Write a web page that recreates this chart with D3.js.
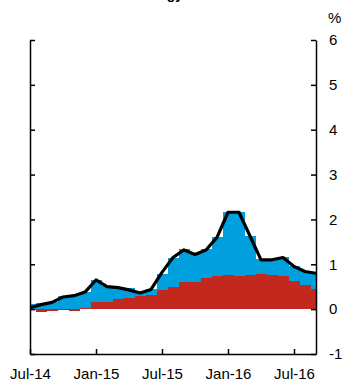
<!DOCTYPE html>
<html>
<head>
<meta charset="utf-8">
<script src="https://cdn.jsdelivr.net/npm/d3@7"></script>
<style>
  body { margin: 0; background: #fff; }
  svg { display: block; font-family: Arial, "Liberation Sans", sans-serif; }
</style>
</head>
<body>
<div id="chart"></div>
<script>
'use strict';

// --- Monthly data, Jul-14 .. Sep-16
var months = ['Jul-14','Aug-14','Sep-14','Oct-14','Nov-14','Dec-14',
  'Jan-15','Feb-15','Mar-15','Apr-15','May-15','Jun-15',
  'Jul-15','Aug-15','Sep-15','Oct-15','Nov-15','Dec-15',
  'Jan-16','Feb-16','Mar-16','Apr-16','May-16','Jun-16',
  'Jul-16','Aug-16','Sep-16'];
var redVals = [-0.02,-0.07,-0.05,-0.03,-0.05,0.02,
  0.15,0.17,0.22,0.24,0.30,0.32,
  0.42,0.50,0.60,0.61,0.69,0.73,
  0.77,0.73,0.77,0.78,0.77,0.73,
  0.63,0.54,0.46];
var blueVals = [0.11,0.13,0.17,0.30,0.32,0.37,
  0.50,0.35,0.28,0.23,0.09,0.13,
  0.36,0.64,0.74,0.64,0.65,0.87,
  1.39,1.43,0.87,0.33,0.34,0.44,
  0.34,0.31,0.36];
var lineVals = [0.03,0.10,0.15,0.27,0.30,0.38,
  0.65,0.50,0.48,0.43,0.36,0.44,
  0.82,1.15,1.32,1.22,1.32,1.60,
  2.16,2.16,1.63,1.10,1.10,1.15,
  0.95,0.84,0.80];
var tickLabels = ['Jul-14','Jan-15','Jul-15','Jan-16','Jul-16'];
var yTicks = [-1,0,1,2,3,4,5,6];

(function() {
  var width = 342, height = 384;
  var pLeft = 30, pRight = 316, pTop = 40, pBottom = 354;

  var svg = d3.select('#chart').append('svg')
    .attr('width', width)
    .attr('height', height);

  var x = d3.scaleLinear().domain([0, months.length - 1]).range([pLeft, pRight]);
  var y = d3.scaleLinear().domain([-1, 6]).range([pBottom, pTop]);
  var bw = x(1) - x(0);

  // --- Stacked bars
  var rows = months.map(function(m, i) {
    return { i: i, red: redVals[i], blue: blueVals[i] };
  });
  var series = d3.stack().keys(['red', 'blue']).offset(d3.stackOffsetDiverging)(rows);
  var colors = { red: '#c3281f', blue: '#00a0de' };

  svg.append('clipPath').attr('id', 'plot')
    .append('rect').attr('x', pLeft).attr('y', pTop)
    .attr('width', pRight - pLeft).attr('height', pBottom - pTop);

  var g = svg.append('g').attr('clip-path', 'url(#plot)');
  g.selectAll('.layer').data(series).enter()
    .append('g')
    .attr('class', 'layer')
    .attr('fill', function(d){ return colors[d.key]; })
    .attr('shape-rendering', 'crispEdges')
    .selectAll('rect').data(function(d){ return d; }).enter()
    .append('rect')
    .attr('x', function(d){ return x(d.data.i) - bw/2; })
    .attr('width', bw + 0.5)
    .attr('y', function(d){ return y(Math.max(d[0], d[1])); })
    .attr('height', function(d){ return Math.abs(y(d[0]) - y(d[1])); });

  // --- Line
  var line = d3.line()
    .x(function(d, i){ return x(i); })
    .y(function(d){ return y(d); });
  g.append('path')
    .datum(lineVals)
    .attr('fill', 'none')
    .attr('stroke', '#000')
    .attr('stroke-width', 3.2)
    .attr('stroke-linejoin', 'round')
    .attr('d', line);

  // --- Axes
  var yLeft = d3.axisLeft(y).tickValues(yTicks).tickSize(-5).tickSizeOuter(0).tickFormat('');
  var yRight = d3.axisRight(y).tickValues(yTicks).tickSize(-5).tickSizeOuter(0).tickPadding(13)
    .tickFormat(function(d){ return d; });
  var xAxis = d3.axisBottom(x).tickValues([0, 6, 12, 18, 24]).tickSize(-5).tickSizeOuter(0).tickPadding(14)
    .tickFormat(function(d, i){ return tickLabels[i]; });

  function styleAxis(sel) {
    sel.selectAll('path, line').attr('stroke', '#000').attr('stroke-width', 1.5);
    sel.selectAll('text').attr('fill', '#000').style('font-size', '15px')
      .style('font-family', 'Arial, "Liberation Sans", sans-serif');
  }

  svg.append('g').attr('transform', 'translate(' + pLeft + ',0)').call(yLeft).call(styleAxis);
  svg.append('g').attr('transform', 'translate(' + pRight + ',0)').call(yRight).call(styleAxis);
  svg.append('g').attr('transform', 'translate(0,' + pBottom + ')').call(xAxis).call(styleAxis);

  // --- Unit label
  svg.append('text')
    .attr('x', 328).attr('y', 23)
    .attr('font-size', '15px')
    .text('%');

  // --- Title (sits above the frame, mostly cut off as in the source)
  svg.append('text')
    .attr('x', 183).attr('y', -1)
    .attr('text-anchor', 'end')
    .attr('font-size', '14px')
    .attr('font-weight', 'bold')
    .text('Energy');
})();
</script>
</body>
</html>
